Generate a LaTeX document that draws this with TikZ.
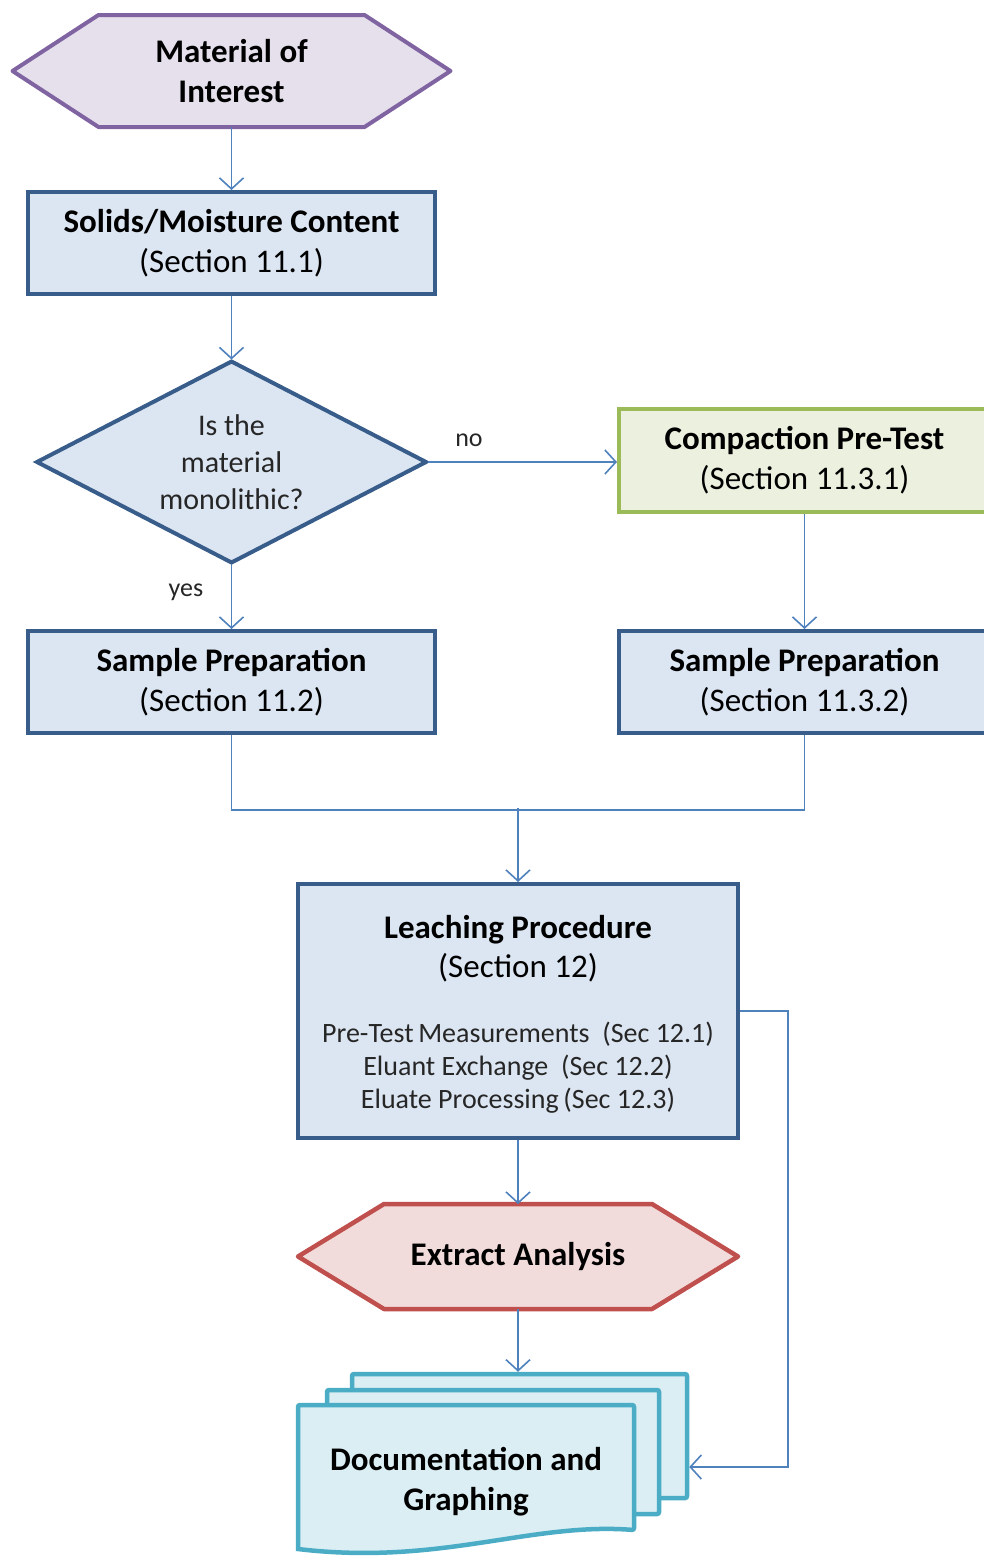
\documentclass[tikz,border=0pt]{standalone}
\usepackage{fontspec}
\setmainfont{Carlito}
\usetikzlibrary{arrows.meta,calc,backgrounds}
\definecolor{connblue}{HTML}{4F81BD}
\definecolor{boxblue}{HTML}{385D8A}
\definecolor{boxfill}{HTML}{DCE6F2}
\definecolor{hexpurple}{HTML}{8064A2}
\definecolor{hexpurplefill}{HTML}{E5E0EC}
\definecolor{grnline}{HTML}{9BBB59}
\definecolor{grnfill}{HTML}{EBF1DE}
\definecolor{redline}{HTML}{C0504D}
\definecolor{redfill}{HTML}{F2DCDB}
\definecolor{cyanline}{HTML}{4BACC6}
\definecolor{cyanfill}{HTML}{DAEEF3}
\definecolor{txtgray}{HTML}{262626}
\newcommand\bigtxt{\fontsize{33}{40}\selectfont}
\newcommand\midtxt{\fontsize{30}{37}\selectfont}
\newcommand\smalltxt{\fontsize{28}{33.5}\selectfont}
\newcommand\lbltxt{\fontsize{26}{30}\selectfont}
\begin{document}
\begin{tikzpicture}[x=1pt,y=-1pt,
  conn/.style={draw=connblue, line width=1.6pt, -{Straight Barb[length=11pt,width=24pt]}},
  plainline/.style={draw=connblue, line width=1.6pt},
  bluebox/.style={draw=boxblue, fill=boxfill, line width=4pt, inner sep=0pt, align=center, font=\bigtxt},
  greenbox/.style={draw=grnline, fill=grnfill, line width=4pt, inner sep=0pt, align=center, font=\bigtxt},
  shapelabel/.style={inner sep=0pt, outer sep=2pt, align=center},
  docpage/.style={draw=cyanline, fill=cyanfill, line width=4.5pt, inner sep=0pt, rounded corners=2pt},
  lbl/.style={font=\lbltxt, text=txtgray, inner sep=0pt}
]
\useasboundingbox (0,0) rectangle (984,1558);

% Material of Interest (hexagon)
\node[shapelabel, minimum width=262pt, minimum height=108pt, font=\bigtxt\bfseries] (mat) at (231.5,71) {Material of\\Interest};
\begin{scope}[on background layer]
\draw[draw=hexpurple, fill=hexpurplefill, line width=4pt, line join=round]
  ($(mat.west)+(-86,0)$) -- (mat.north west) -- (mat.north east) -- ($(mat.east)+(86,0)$) -- (mat.south east) -- (mat.south west) -- cycle;
\end{scope}

% Solids / Moisture
\node[bluebox, minimum width=407pt, minimum height=102pt] (solids) at (231.5,243) {\textbf{Solids/Moisture Content}\\(Section 11.1)};

% Decision diamond
\node[shapelabel, minimum width=389pt, minimum height=201pt, font=\midtxt, text=txtgray] (dia) at (231.5,462) {Is the\\material\\monolithic?};
\begin{scope}[on background layer]
\draw[draw=boxblue, fill=boxfill, line width=4pt, line join=miter]
  ($(dia.north)+(0,2)$) -- ($(dia.east)+(-2,0)$) -- ($(dia.south)+(0,-2)$) -- ($(dia.west)+(2,0)$) -- cycle;
\end{scope}

% Compaction pre-test
\node[greenbox, minimum width=371pt, minimum height=103pt] (comp) at (804.5,460.5) {\textbf{Compaction Pre-Test}\\(Section 11.3.1)};

% Sample preparation boxes
\node[bluebox, minimum width=407pt, minimum height=102pt] (sampL) at (231.5,682) {\textbf{Sample Preparation}\\(Section 11.2)};
\node[bluebox, minimum width=371pt, minimum height=102pt] (sampR) at (804.5,682) {\textbf{Sample Preparation}\\(Section 11.3.2)};

% Leaching procedure
\node[bluebox, minimum width=440pt, minimum height=254pt] (leach) at (518,1011) {};
\node[anchor=base, inner sep=0pt, font=\bigtxt\bfseries] (leachA) at (518,938) {Leaching Procedure};
\node[anchor=base, inner sep=0pt, font=\bigtxt] (leachB) at (518,977) {(Section 12)};
\node[anchor=base, inner sep=0pt, font=\smalltxt, text=txtgray] (leachC) at (518,1042) {Pre-Test\,Measurements\ \ (Sec 12.1)};
\node[anchor=base, inner sep=0pt, font=\smalltxt, text=txtgray] (leachD) at (518,1075) {Eluant Exchange\ \ (Sec 12.2)};
\node[anchor=base, inner sep=0pt, font=\smalltxt, text=txtgray] (leachE) at (518,1108) {Eluate Processing\,(Sec 12.3)};

% Extract analysis (hexagon)
\node[shapelabel, minimum width=264pt, minimum height=101pt, font=\bigtxt\bfseries] (ext) at (518,1256.5) {Extract Analysis};
\begin{scope}[on background layer]
\draw[draw=redline, fill=redfill, line width=4.5pt, line join=round]
  ($(ext.west)+(-86,0)$) -- (ext.north west) -- (ext.north east) -- ($(ext.east)+(86,0)$) -- (ext.south east) -- (ext.south west) -- cycle;
\end{scope}

% Multi-document
\node[docpage, minimum width=335pt, minimum height=124pt] (docback) at (519.5,1436) {};
\node[docpage, minimum width=332pt, minimum height=124pt] (docmid) at (493,1452) {};
\draw[draw=cyanline, fill=cyanfill, line width=4.5pt, rounded corners=2pt]
  (298,1405) -- (634,1405) -- (634,1530) [sharp corners] .. controls (530,1522) and (440,1566) .. (298,1549) [rounded corners=2pt] -- cycle;
\node[inner sep=0pt, align=center, font=\bigtxt\bfseries] (doc) at (466,1482) {Documentation and\\Graphing};

% Connectors
\draw[conn] (mat.south) -- (solids.north);
\draw[conn] (solids.south) -- (dia.north);
\draw[conn] (dia.east) -- (dia.east -| comp.west);
\node[lbl] (nolbl) at (469,440) {no};
\draw[conn] (dia.south) -- (sampL.north);
\node[lbl] (yeslbl) at (186,592) {yes};
\draw[conn] (comp.south) -- (sampR.north);
\draw[plainline] (sampL.south) -- ++(0,75) -| (sampR.south);
\coordinate (merge) at (518,808);
\draw[conn] (merge) -- (leach.north);
\draw[conn] (leach.south) -- (ext.north);
\draw[conn] (ext.south) -- (ext.south |- docback.north);
\coordinate (bend) at (788,1467);
\draw[conn] (leach.east) -| (bend) -- (docback.east |- bend);
\end{tikzpicture}
\end{document}
